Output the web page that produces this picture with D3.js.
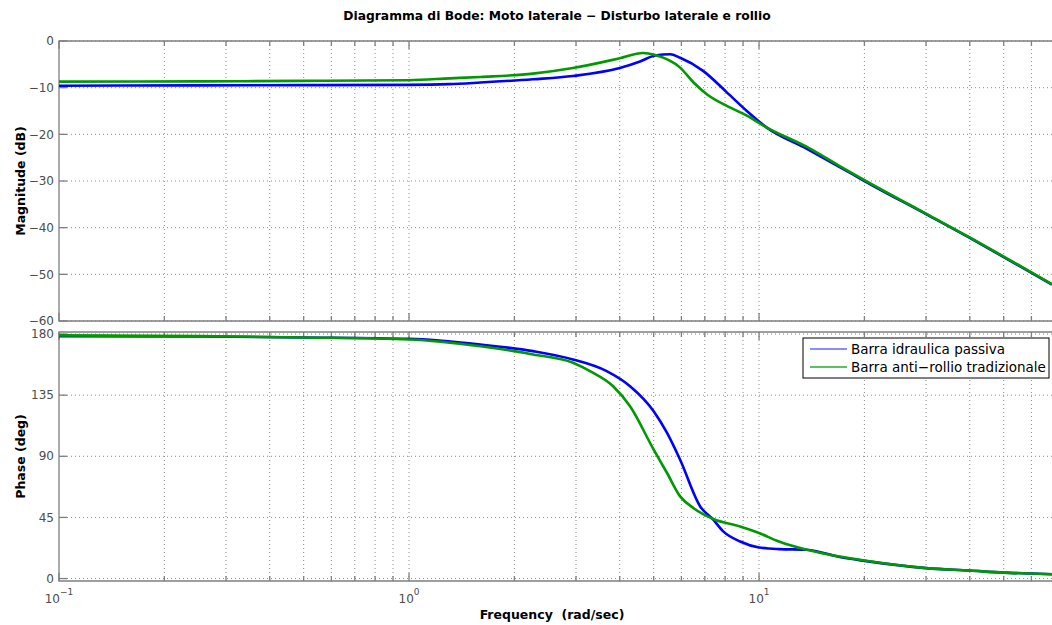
<!DOCTYPE html>
<html>
<head>
<meta charset="utf-8">
<script src="https://cdn.jsdelivr.net/npm/d3@7"></script>
<style>
  body { margin: 0; background: #fff; }
  svg { display: block; font-family: 'DejaVu Sans', Verdana, sans-serif; }
  .grid line { stroke: #8c8c8c; stroke-width: 1; stroke-dasharray: 1 3; }
  .frame { stroke: #7f7f7f; stroke-width: 1.3; fill: none; }
  .tick { stroke: #7f7f7f; stroke-width: 1.3; }
  .tlabel { fill: #4d4d4d; font-size: 12px; }
  .curve { fill: none; stroke-width: 2.6; stroke-linejoin: round; }
</style>
</head>
<body>
<svg id="chart" width="1052" height="625"></svg>
<script>
'use strict';

// readings (rad/sec, dB, deg)
const blueMagW = [0.1, 0.25, 0.5, 1, 1.3, 1.6, 2.26, 2.94, 4, 4.57, 5.05, 5.57, 5.95, 6.92, 8.09, 9.23, 10.5, 13.7, 17, 20, 30, 40, 50, 68.7];
const blueMagDb = [-9.6, -9.5, -9.45, -9.4, -9.25, -8.9, -8.2, -7.5, -5.8, -4.4, -3.1, -2.85, -3.6, -6.4, -11.0, -15.0, -18.5, -23.1, -27.0, -30.0, -37.1, -42.2, -46.3, -52.2];

const greenMagW = [0.1, 0.25, 0.5, 1, 1.31, 1.6, 2.26, 2.94, 4, 4.66, 5.05, 5.95, 6.5, 7.09, 8.09, 9.23, 10.5, 13.7, 17, 20, 30, 40, 50, 68.7];
const greenMagDb = [-8.7, -8.65, -8.55, -8.4, -8.0, -7.7, -7.0, -5.8, -3.7, -2.56, -3.0, -5.7, -8.9, -11.4, -13.9, -16.0, -18.5, -22.7, -26.8, -29.8, -37.0, -42.1, -46.2, -52.1];

const bluePhW = [0.1, 0.25, 0.5, 1, 1.6, 2.26, 2.94, 3.67, 4.28, 5.0, 5.46, 5.95, 6.79, 7.4, 7.9, 8.83, 10, 11.4, 13.7, 17, 20, 30, 40, 50, 60, 68.7];
const bluePhDeg = [178.5, 178.2, 177.5, 176.5, 172.3, 167.4, 161.3, 152.7, 141.6, 123.2, 107.2, 87.5, 53.1, 43.3, 34.7, 27.3, 22.9, 21.7, 21.2, 15.8, 13.0, 7.7, 5.9, 4.4, 3.7, 3.2];

const greenPhW = [0.1, 0.25, 0.5, 1, 1.6, 2.26, 2.94, 3.29, 3.83, 4.28, 5.0, 5.46, 5.95, 6.49, 7.4, 8.83, 10, 11.4, 13.7, 17, 20, 30, 40, 50, 60, 68.7];
const greenPhDeg = [179, 178.5, 177.5, 176, 171, 165, 158.9, 152.7, 141.6, 126.8, 94.9, 77.7, 60.5, 51.9, 43.8, 38.3, 33.5, 27.3, 21.2, 16.2, 13.3, 7.7, 5.9, 4.4, 3.7, 3.2];

const magTicks = [0, -10, -20, -30, -40, -50, -60];
const phaseTicks = [0, 45, 90, 135, 180];
const decades = [-1, 0, 1];

const seriesNames = ['Barra idraulica passiva', 'Barra anti\u2212rollio tradizionale'];
const seriesColors = ['#0000ff', '#009a00'];
const legendColors = ['#8c8cff', '#5cc05c'];

const title = 'Diagramma di Bode: Moto laterale \u2212 Disturbo laterale e rollio';

const svg = d3.select('#chart');

const left = 59;
const right = 1052;
const xMax = 68.7;

const x = d3.scaleLog().domain([0.1, xMax]).range([left, right]);

const panels = [
  {
    name: 'mag',
    y: d3.scaleLinear().domain([-60, 0]).range([321, 41]),
    ticks: magTicks,
    label: 'Magnitude (dB)',
    series: [
      { w: blueMagW, v: blueMagDb, color: seriesColors[0] },
      { w: greenMagW, v: greenMagDb, color: seriesColors[1] },
    ],
  },
  {
    name: 'phase',
    y: d3.scaleLinear().domain([-1.8, 181.5]).range([581, 332]),
    ticks: phaseTicks,
    label: 'Phase (deg)',
    series: [
      { w: bluePhW, v: bluePhDeg, color: seriesColors[0] },
      { w: greenPhW, v: greenPhDeg, color: seriesColors[1] },
    ],
  },
];

let minor = [];
let major = [];
decades.forEach(d => {
  major.push(Math.pow(10, d));
  for (let k = 2; k <= 9; k++) {
    const v = k * Math.pow(10, d);
    if (v <= xMax) minor.push(v);
  }
});

const fmt = v => (v < 0 ? '\u2212' + Math.abs(v) : String(v));

panels.forEach(p => {
  const [yb, yt] = p.y.range();
  const g = svg.append('g').attr('class', p.name);

  g.append('clipPath')
    .attr('id', 'clip-' + p.name)
    .append('rect')
    .attr('x', left)
    .attr('y', yt)
    .attr('width', right - left)
    .attr('height', yb - yt);

  const grid = g.append('g').attr('class', 'grid');

  grid.selectAll('.vg')
    .data(minor.concat(major.filter(v => v > 0.1)))
    .enter()
    .append('line')
    .attr('x1', d => x(d))
    .attr('x2', d => x(d))
    .attr('y1', yt)
    .attr('y2', yb);

  grid.selectAll('.hg')
    .data(p.ticks)
    .enter()
    .append('line')
    .attr('x1', left)
    .attr('x2', right)
    .attr('y1', d => p.y(d))
    .attr('y2', d => p.y(d));

  // inward tick marks, top and bottom
  const xt = minor.map(v => ({ v, len: 5 })).concat(major.map(v => ({ v, len: 8 })));
  [yt, yb].forEach(edge => {
    const dir = edge === yt ? 1 : -1;
    g.selectAll(null)
      .data(xt)
      .enter()
      .append('line')
      .attr('class', 'tick')
      .attr('x1', d => x(d.v))
      .attr('x2', d => x(d.v))
      .attr('y1', edge)
      .attr('y2', d => edge + dir * d.len);
  });

  g.selectAll(null)
    .data(p.ticks)
    .enter()
    .append('line')
    .attr('class', 'tick')
    .attr('x1', left)
    .attr('x2', left + 8)
    .attr('y1', d => p.y(d))
    .attr('y2', d => p.y(d));

  g.selectAll(null)
    .data(p.ticks)
    .enter()
    .append('text')
    .attr('class', 'tlabel')
    .attr('x', left - 5)
    .attr('y', d => p.y(d))
    .attr('dy', '0.35em')
    .attr('text-anchor', 'end')
    .text(fmt);

  g.append('path')
    .attr('class', 'frame')
    .attr('d', `M${right + 2},${yt}H${left}V${yb}H${right + 2}`);

  const line = d3.line()
    .x(d => x(d[0]))
    .y(d => p.y(d[1]))
    .curve(d3.curveMonotoneX);

  g.append('g')
    .attr('clip-path', `url(#clip-${p.name})`)
    .selectAll('path')
    .data(p.series)
    .enter()
    .append('path')
    .attr('class', 'curve')
    .attr('stroke', d => d.color)
    .attr('d', d => line(d.w.map((w, i) => [w, d.v[i]])));

  g.append('text')
    .attr('transform', `translate(25,${(yt + yb) / 2}) rotate(-90)`)
    .attr('text-anchor', 'middle')
    .attr('font-size', 12.5)
    .attr('font-weight', 'bold')
    .text(p.label);
});

// x tick labels on the lower panel
const xl = svg.append('g').attr('class', 'xlabels');
major.forEach(v => {
  const t = xl.append('text')
    .attr('class', 'tlabel')
    .attr('x', x(v))
    .attr('y', 603)
    .attr('text-anchor', 'middle');
  t.append('tspan').text('10');
  t.append('tspan')
    .attr('dy', -8)
    .attr('font-size', 9)
    .text(fmt(Math.round(Math.log10(v))));
});

svg.append('text')
  .attr('x', 552)
  .attr('y', 619)
  .attr('text-anchor', 'middle')
  .attr('font-size', 12.5)
  .attr('font-weight', 'bold')
  .style('white-space', 'pre')
  .text('Frequency  (rad/sec)');

svg.append('text')
  .attr('x', 557)
  .attr('y', 20)
  .attr('text-anchor', 'middle')
  .attr('font-size', 12.3)
  .attr('font-weight', 'bold')
  .text(title);

// legend
const leg = svg.append('g').attr('class', 'legend');
leg.append('rect')
  .attr('x', 803)
  .attr('y', 338)
  .attr('width', 246)
  .attr('height', 40)
  .attr('fill', '#fff')
  .attr('stroke', '#000')
  .attr('stroke-width', 1);

seriesNames.forEach((name, i) => {
  const yy = 349 + i * 18;
  leg.append('line')
    .attr('x1', 810)
    .attr('x2', 847)
    .attr('y1', yy)
    .attr('y2', yy)
    .attr('stroke', legendColors[i])
    .attr('stroke-width', 2);
  leg.append('text')
    .attr('x', 851)
    .attr('y', yy)
    .attr('dy', '0.35em')
    .attr('font-size', 13.5)
    .text(name);
});
</script>
</body>
</html>
